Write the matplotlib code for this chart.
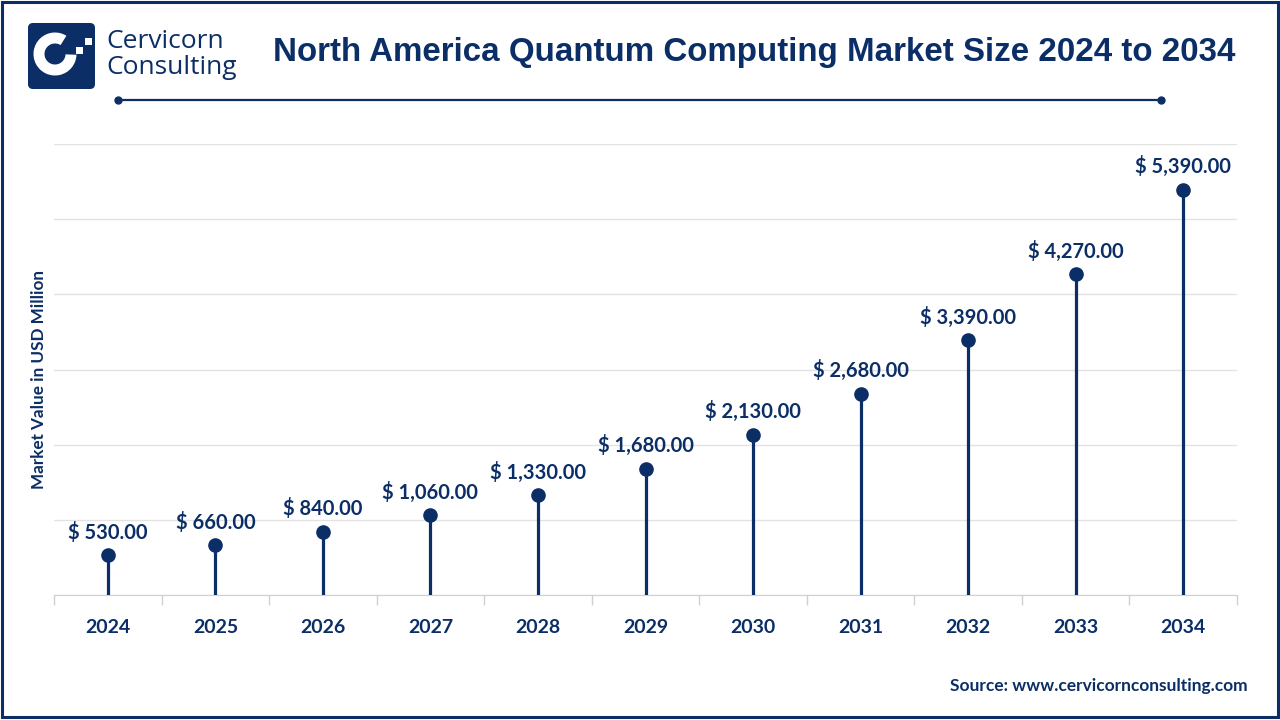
import matplotlib
matplotlib.use("Agg")
import matplotlib.pyplot as plt
from matplotlib.patches import FancyBboxPatch, Wedge, Rectangle
import numpy as np

years = ["2024", "2025", "2026", "2027", "2028", "2029", "2030", "2031", "2032", "2033", "2034"]
values = [530, 660, 840, 1060, 1330, 1680, 2130, 2680, 3390, 4270, 5390]
title = "North America Quantum Computing Market Size 2024 to 2034"
ylabel = "Market Value in USD Million"
source = "Source: www.cervicornconsulting.com"

NAVY = "#0b2e66"
GRID = "#e3e3e3"
LF = ["Lato", "DejaVu Sans"]

fig = plt.figure(figsize=(12.8, 7.2), dpi=100)
fig.patch.set_facecolor("white")

ax = fig.add_axes([54/1280, 1-595/720, (1237-54)/1280, (595-144)/720])
x = np.arange(len(years))
ax.vlines(x, 0, values, color=NAVY, lw=2.3, zorder=3)
ax.plot(x, values, "o", color=NAVY, ms=9.5, zorder=4)
for xi, v in zip(x, values):
    ax.annotate(f"$ {v:,.2f}", (xi, v), xytext=(0, 9), textcoords="offset points",
                ha="center", va="bottom", fontsize=14.5, fontweight="bold", color=NAVY, family=LF)
ax.set_xlim(-0.5, len(years) - 0.5)
ax.set_ylim(0, 6000)
ax.set_yticks(np.arange(0, 6001, 1000))
ax.yaxis.grid(True, color=GRID, lw=1)
ax.set_axisbelow(True)
ax.tick_params(axis="y", length=0, labelleft=False)
ax.set_xticks(x)
ax.set_xticklabels(years, fontsize=14, fontweight="bold", color=NAVY, family=LF)
ax.tick_params(axis="x", length=0, pad=17)
ax.set_xticks(np.arange(-0.5, len(years), 1), minor=True)
ax.tick_params(axis="x", which="minor", length=7, color="#d0d0d0", width=1)
for s in ["top", "right", "left"]:
    ax.spines[s].set_visible(False)
ax.spines["bottom"].set_color("#d0d0d0")
ax.set_ylabel(ylabel, fontsize=12.3, fontweight="bold", color=NAVY, family=LF)
ax.yaxis.set_label_coords(-0.006, 0.477)

# overlay for decorations
ov = fig.add_axes([0, 0, 1, 1], zorder=-1)
ov.set_xlim(0, 1280)
ov.set_ylim(720, 0)
ov.axis("off")
ov.add_patch(Rectangle((1.5, 1.5), 1276, 715, fill=False, ec=NAVY, lw=2.2))
ov.add_patch(FancyBboxPatch((28, 23), 67, 66, boxstyle="round,pad=0,rounding_size=5",
                            fc=NAVY, ec="none"))
ov.add_patch(Wedge((55, 54), 21.5, 2, 302, width=11, fc="white", ec="none"))
ov.add_patch(Rectangle((85, 38), 7, 7, fc="white", ec="none"))
ov.add_patch(Rectangle((76, 47), 7, 7, fc="white", ec="none"))
ov.text(106, 42, "Cervicorn", fontsize=19, color=NAVY, va="center", ha="left", family=["Open Sans", "DejaVu Sans"])
ov.text(106, 67, "Consulting", fontsize=19, color=NAVY, va="center", ha="left", family=["Open Sans", "DejaVu Sans"])
ov.text(1235, 53, title, fontsize=23.9, fontweight="bold", color=NAVY, va="center", ha="right",
        family=["Liberation Sans", "DejaVu Sans"])
ov.plot([118, 1161], [100, 100], color=NAVY, lw=1.6)
ov.plot([118, 1161], [100, 100], "o", color=NAVY, ms=5)
ov.text(1248, 686, source, fontsize=12.5, fontweight="bold", color=NAVY, va="center", ha="right", family=LF)

fig.savefig("out.png", dpi=100, facecolor="white")
